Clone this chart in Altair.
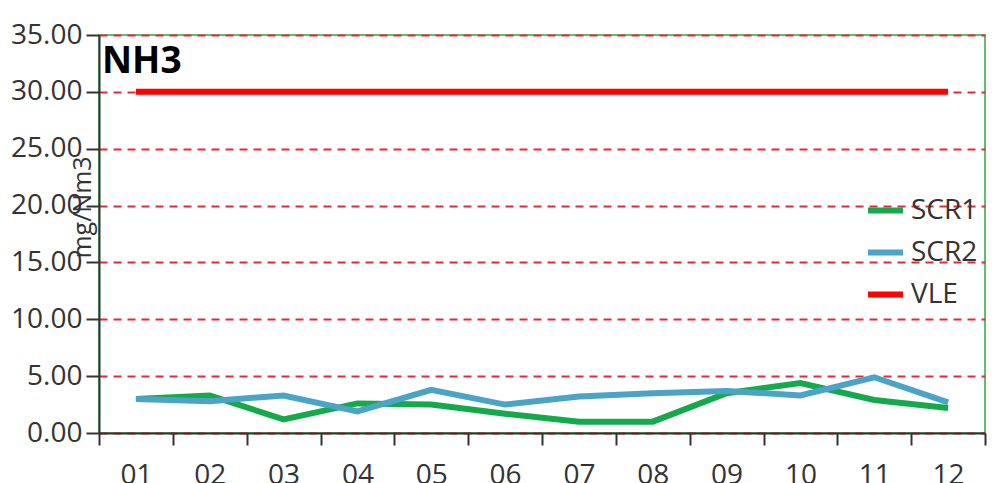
import altair as alt
import pandas as pd

months = ["01", "02", "03", "04", "05", "06", "07", "08", "09", "10", "11", "12"]
scr1 = [3.0, 3.3, 1.2, 2.6, 2.5, 1.7, 1.0, 1.0, 3.5, 4.4, 2.9, 2.2]
scr2 = [3.0, 2.8, 3.3, 1.9, 3.8, 2.5, 3.2, 3.5, 3.7, 3.3, 4.9, 2.7]
vle = [30.0] * 12
series_names = ["SCR1", "SCR2", "VLE"]
series_colors = ["#16a94c", "#4ba3c6", "#ff0000"]
y_ticks = [0, 5, 10, 15, 20, 25, 30, 35]

rows = []
for name, vals in zip(series_names, [scr1, scr2, vle]):
    for m, v in zip(months, vals):
        rows.append({"month": m, "value": v, "series": name})
df = pd.DataFrame(rows)

FONT = "Open Sans"

chart = alt.Chart(df).mark_line(strokeWidth=6, strokeCap="butt").encode(
    x=alt.X(
        "month:N",
        sort=months,
        bandPosition=0.5,
        scale=alt.Scale(type="band", paddingInner=0, paddingOuter=0),
        axis=alt.Axis(
            title=None,
            labelAngle=0,
            tickBand="extent",
            tickSize=12,
            tickWidth=2,
            tickColor="#333333",
            domainColor="#333333",
            domainWidth=2,
            labelFontSize=28,
            labelColor="#333333",
            labelPadding=16,
            grid=False,
        ),
    ),
    y=alt.Y(
        "value:Q",
        scale=alt.Scale(domain=[0, 35], nice=False),
        axis=alt.Axis(
            title="mg/Nm3",
            values=y_ticks,
            format=".2f",
            grid=True,
            gridDash=[8, 6],
            gridColor="#e8283a",
            gridWidth=2,
            domainColor="#333333",
            domainWidth=2,
            tickSize=13,
            tickWidth=2,
            tickColor="#333333",
            labelFontSize=28,
            labelColor="#333333",
            labelPadding=4,
            titleFontSize=25,
            titleFontWeight="normal",
            titleColor="#333333",
            titleAngle=270,
            titleX=-17,
            titleY=172,
            titleAlign="center",
            titleBaseline="middle",
        ),
    ),
    color=alt.Color(
        "series:N",
        scale=alt.Scale(domain=series_names, range=series_colors),
        legend=alt.Legend(
            title=None,
            orient="none",
            legendX=766,
            legendY=155,
            symbolType="stroke",
            symbolStrokeWidth=6,
            symbolSize=1225,
            labelFontSize=28,
            labelColor="#333333",
            labelOffset=5,
            rowPadding=7,
        ),
    ),
    order=alt.Order("series:N"),
).properties(
    width=886,
    height=398,
    title=alt.TitleParams(
        "NH3",
        anchor="start",
        frame="group",
        fontSize=37,
        fontWeight="bold",
        color="black",
        font=FONT,
        baseline="top",
        offset=0,
        dx=3,
        dy=60,
    ),
    autosize=alt.AutoSizeParams(type="none"),
    padding={"left": 91, "top": 27, "right": 12, "bottom": 50},
).configure(
    font=FONT,
).configure_view(
    stroke="#2aa84a",
    strokeWidth=1.5,
)

chart.save("out.html", embed_options={"renderer": "svg", "actions": False})
